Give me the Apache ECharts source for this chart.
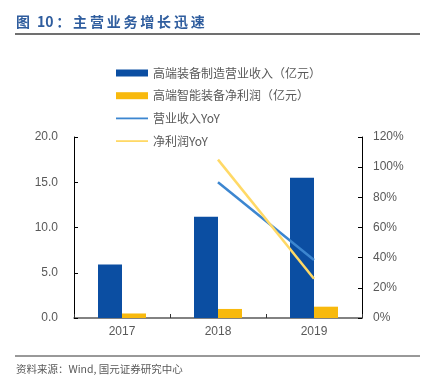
<!DOCTYPE html>
<html><head><meta charset="utf-8">
<script src="https://cdn.jsdelivr.net/npm/echarts@6/dist/echarts.min.js"></script>
<style>html,body{margin:0;padding:0;background:#fff}#c{width:427px;height:390px}</style>
</head><body><div id="c"></div>
<script>
const categories = ['2017', '2018', '2019'];
const revenue = [5.9, 11.2, 15.5];
const profit = [0.5, 1.0, 1.25];
const revenueYoY = [null, 90, 38.5];
const profitYoY = [null, 105, 26];
const leftTicks = [0, 20, 5];
const rightTicks = [0, 120, 20];
const names = ['高端装备制造营业收入（亿元）', '高端智能装备净利润（亿元）', '营业收入YoY', '净利润YoY'];

const chart = echarts.init(document.getElementById('c'));
const cjk = '"Noto Sans CJK SC", "Noto Sans", sans-serif';
const lat = 'Arial, "Liberation Sans", sans-serif';
const sp = s => s.split('').join('\u2009');
const lineIcon = 'path://M0,0 L0,0 M0,2.6 L32,2.6 L32,4.4 L0,4.4 Z M32,7 L32,7';
chart.setOption({
  animation: false,
  textStyle: { fontFamily: cjk },
  graphic: [
    { type: 'text', left: 16, top: 15, style: { text: '图\u200210\u2009：\u2009' + sp('主营业务增长迅速'), fill: '#2f5d9e', font: 'bold 14px ' + cjk } },
    { type: 'line', shape: { x1: 15, y1: 34, x2: 420, y2: 34 }, style: { stroke: '#404040', lineWidth: 1.5 } },
    { type: 'line', shape: { x1: 15, y1: 356, x2: 420, y2: 356 }, style: { stroke: '#333', lineWidth: 1 } },
    { type: 'text', left: 16, top: 364, style: { text: '资料来源：Wind, 国元证券研究中心', fill: '#595959', font: '10.5px ' + cjk } }
  ],
  legend: {
    orient: 'vertical', left: 111, top: 62, itemWidth: 32, itemHeight: 7, itemGap: 10.7,
    textStyle: { color: '#595959', fontSize: 12, fontFamily: cjk },
    data: [
      { name: names[0], icon: 'rect' },
      { name: names[1], icon: 'rect' },
      { name: names[2], icon: lineIcon, itemStyle: { color: '#3c86d0' } },
      { name: names[3], icon: lineIcon, itemStyle: { color: '#ffd966' } }
    ]
  },
  grid: { left: 74, right: 65, top: 137, bottom: 72 },
  xAxis: {
    type: 'category', data: categories,
    axisLine: { lineStyle: { color: '#595959', width: 1.5 } },
    axisTick: { show: true, inside: true, length: 4, lineStyle: { color: '#333' } },
    axisLabel: { color: '#595959', fontSize: 12, fontFamily: lat, margin: 8 }
  },
  yAxis: [
    { type: 'value', min: leftTicks[0], max: leftTicks[1], interval: leftTicks[2],
      axisLine: { show: true, lineStyle: { color: '#000', width: 1 } },
      axisTick: { show: true, inside: true, length: 4, lineStyle: { color: '#000' } },
      splitLine: { show: false },
      axisLabel: { color: '#595959', fontSize: 12, fontFamily: lat, margin: 16, formatter: v => v.toFixed(1) } },
    { type: 'value', min: rightTicks[0], max: rightTicks[1], interval: rightTicks[2],
      axisLine: { show: true, lineStyle: { color: '#000', width: 1 } },
      axisTick: { show: true, inside: true, length: 4, lineStyle: { color: '#000' } },
      splitLine: { show: false },
      axisLabel: { color: '#595959', fontSize: 12, fontFamily: lat, margin: 11, formatter: v => v + '%' } }
  ],
  series: [
    { name: names[0], type: 'bar', data: revenue, barWidth: 24, barGap: '0%', itemStyle: { color: '#0b4ea2' } },
    { name: names[1], type: 'bar', data: profit, barWidth: 24, barGap: '0%', itemStyle: { color: '#f8b90d' } },
    { name: names[2], type: 'line', yAxisIndex: 1, data: revenueYoY, symbol: 'none', lineStyle: { color: '#3c86d0', width: 2.5 }, itemStyle: { color: '#3c86d0' } },
    { name: names[3], type: 'line', yAxisIndex: 1, data: profitYoY, symbol: 'none', lineStyle: { color: '#ffd966', width: 2.5 }, itemStyle: { color: '#ffd966' } }
  ]
});
</script></body></html>
